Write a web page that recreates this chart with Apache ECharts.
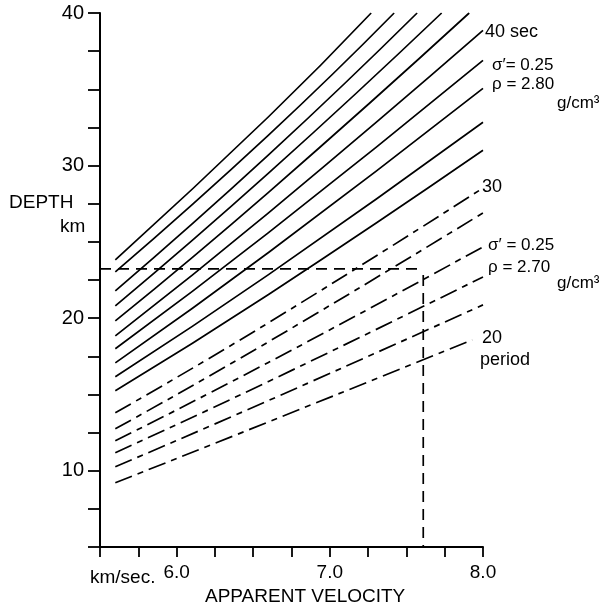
<!DOCTYPE html>
<html><head><meta charset="utf-8">
<script src="https://cdn.jsdelivr.net/npm/echarts@6/dist/echarts.min.js"></script>
<style>html,body{margin:0;padding:0;background:#fff}#c{width:611px;height:612px}</style>
</head><body><div id="c"></div>
<script>
// Apparent velocity (km/sec) vs depth (km); each line: [velocity, depth] points
const rho280Lines = [
  [[5.6,23.82],[6.6,33.2],[7.27,40]],
  [[5.6,23.03],[6.6,32.0],[7.42,40]],
  [[5.6,21.79],[6.6,30.7],[7.57,40]],
  [[5.6,20.80],[6.6,29.5],[7.73,40]],
  [[5.6,19.82],[6.6,28.25],[7.91,40]],
  [[5.6,18.84],[6.6,26.9],[8.0,38.86]],   // 40 sec
  [[5.6,17.99],[6.6,25.6],[8.0,36.9]],
  [[5.6,17.07],[6.6,24.3],[8.0,35.06]],
  [[5.6,16.16],[6.6,22.85],[8.0,32.84]],
  [[5.6,15.24],[6.6,21.55],[8.0,31.0]]
];
const rho270Lines = [
  [[5.6,13.80],[6.6,19.7],[8.0,28.53]],   // 30
  [[5.6,12.75],[6.6,18.45],[8.0,26.9]],
  [[5.6,11.96],[6.6,17.1],[8.0,24.67]],
  [[5.6,11.18],[6.6,15.85],[8.0,22.7]],
  [[5.6,10.26],[6.6,14.6],[8.0,20.87]],
  [[5.6,9.21],[6.6,13.2],[7.93,18.57]]    // 20 period
];
const examplePoint = [7.61, 23.23];
const xTickLabels = {6: '6.0', 7: '7.0', 8: '8.0'};
const yTickLabels = {10: '10', 20: '20', 30: '30', 40: '40'};

const FONT = 'Liberation Sans';
const series = [];
rho280Lines.forEach(d => series.push({type:'line', data:d, smooth:true, symbol:'none',
  lineStyle:{color:'#000', width:1.7, type:'solid'}}));
rho270Lines.forEach(d => series.push({type:'line', data:d, smooth:true, symbol:'none',
  lineStyle:{color:'#000', width:1.7, type:[18,6,6,6]}}));
series.push({type:'line', data:[[5.5, examplePoint[1]],[examplePoint[0]-0.04, examplePoint[1]]], symbol:'none',
  lineStyle:{color:'#000', width:1.7, type:[11,7]}});
series.push({type:'line', data:[[examplePoint[0], examplePoint[1]-0.4],[examplePoint[0], 5]], symbol:'none',
  lineStyle:{color:'#000', width:1.7, type:[11,7]}});
series.push({type:'scatter', data:[examplePoint], symbol:'emptyCircle', symbolSize:8,
  itemStyle:{color:'#fff', borderColor:'#000', borderWidth:1.5}});

const t = (text, x, y, size) => ({type:'text', x, y,
  style:{text, font: size + 'px "' + FONT + '"', fill:'#000', textVerticalAlign:'middle'}});

const chart = echarts.init(document.getElementById('c'));
chart.setOption({
  animation:false,
  grid:{left:100, right:128, top:13, bottom:65, outerBoundsMode:'none'},
  xAxis:{type:'value', min:5.5, max:8, interval:0.25,
    axisLine:{lineStyle:{color:'#000', width:2}},
    axisTick:{length:10, lineStyle:{color:'#000', width:1.8}},
    axisLabel:{formatter:v => xTickLabels[Math.round(v*100)/100] || '', color:'#000', fontFamily:FONT, fontSize:19, margin:16},
    splitLine:{show:false}},
  yAxis:{type:'value', min:5, max:40, interval:2.5,
    axisLine:{lineStyle:{color:'#000', width:2}},
    axisTick:{length:12, lineStyle:{color:'#000', width:1.8}},
    axisLabel:{formatter:v => yTickLabels[v] || '', color:'#000', fontFamily:FONT, fontSize:20, margin:16},
    splitLine:{show:false}},
  series,
  graphic:[
    t('DEPTH', 9, 203, 19),
    t('km', 60, 227, 19),
    t('km/sec.', 90, 578, 19),
    t('APPARENT VELOCITY', 205, 597, 19),
    t('40 sec', 485, 32, 18),
    t('σ\u2032= 0.25', 492, 65, 17),
    t('ρ = 2.80', 492, 84, 17),
    t('g/cm³', 557, 103, 17),
    t('30', 482, 187, 18),
    t('σ\u2032 = 0.25', 488, 245, 17),
    t('ρ = 2.70', 488, 267, 17),
    t('g/cm³', 557, 283, 17),
    t('20', 482, 338, 18),
    t('period', 480, 360, 18)
  ]
});
</script></body></html>
